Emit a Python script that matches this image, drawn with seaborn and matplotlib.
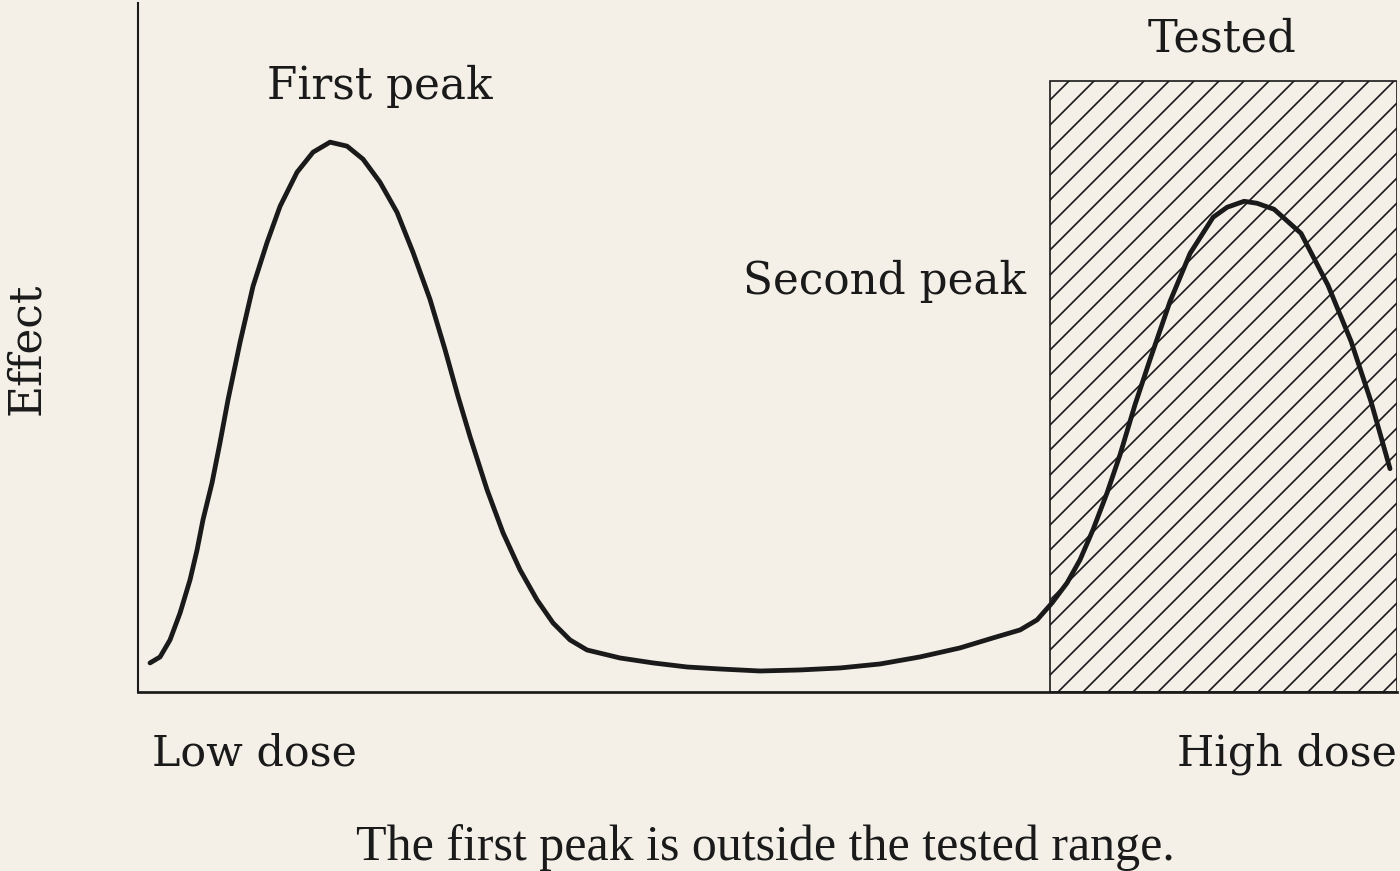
import seaborn as sns
import matplotlib.pyplot as plt
import pandas as pd
from matplotlib.patches import Rectangle

# Data (dose 0-100, effect 0-100)
dose = [0.95, 1.75, 2.54, 3.34, 4.13, 4.69, 5.16, 5.88, 6.51, 7.15, 8.10, 9.13,
        10.25, 11.28, 12.63, 13.90, 15.25, 16.60, 17.87, 19.22, 20.57, 21.84,
        23.19, 24.38, 25.42, 26.37, 27.72, 28.99, 30.34, 31.69, 32.96, 34.31,
        35.66, 38.28, 40.91, 43.61, 46.23, 49.40, 52.58, 55.76, 58.94, 62.11,
        65.29, 67.91, 70.06, 71.41, 72.60, 73.79, 74.82, 75.85, 76.97, 78.00,
        79.19, 80.38, 81.97, 83.56, 85.39, 86.50, 87.85, 88.88, 90.23, 92.37,
        94.52, 96.35, 97.93, 99.44]
effect = [4.22, 5.09, 7.56, 11.48, 16.28, 20.64, 25.00, 30.38, 36.19, 42.44, 50.73, 58.87,
          65.26, 70.49, 75.44, 78.34, 79.80, 79.22, 77.33, 73.98, 69.62, 63.81,
          56.98, 49.71, 42.88, 37.06, 29.36, 23.11, 17.73, 13.37, 10.03, 7.56,
          6.10, 4.94, 4.22, 3.63, 3.34, 3.05, 3.20, 3.49, 4.07, 5.09,
          6.40, 7.85, 9.01, 10.47, 12.94, 15.84, 19.19, 23.55, 28.92, 34.45,
          41.72, 48.26, 56.69, 63.66, 68.90, 70.35, 71.22, 70.93, 70.06, 66.57,
          59.01, 50.87, 42.15, 32.41]

tested_start = 72.4
tested_end = 100
tested_top = 88.7

df = pd.DataFrame({"dose": dose, "effect": effect})

bg = "#f4f0e8"
ink = "#1a1a1a"

sns.set_theme(style="white")
plt.rcParams["font.family"] = ["DejaVu Serif"]
plt.rcParams["hatch.linewidth"] = 0.8
plt.rcParams["hatch.color"] = ink

fig = plt.figure(figsize=(1400 / 150, 871 / 150), dpi=150, facecolor=bg)
ax = fig.add_axes([0.0986, 0.2055, 0.8993, 0.7911])
ax.set_facecolor(bg)

# tested range box
ax.add_patch(Rectangle((tested_start, 0), tested_end - tested_start, tested_top,
                       facecolor="none", edgecolor=ink, hatch="//", linewidth=0.8))

sns.lineplot(data=df, x="dose", y="effect", color=ink, linewidth=2.3, ax=ax,
             solid_joinstyle="round", solid_capstyle="round")

ax.set_xlim(0, 100)
ax.set_ylim(0, 100)
ax.set_xticks([])
ax.set_yticks([])
ax.set_xlabel("")
ax.set_ylabel("")
for s in ["top", "right"]:
    ax.spines[s].set_visible(False)
ax.spines["left"].set_linewidth(1.0)
ax.spines["bottom"].set_linewidth(1.3)
ax.spines["left"].set_color(ink)
ax.spines["bottom"].set_color(ink)

fs = 21
ax.text(19.2, 86.0, "First peak", ha="center", va="baseline", fontsize=fs, color=ink)
ax.text(59.3, 57.7, "Second peak", ha="center", va="baseline", fontsize=fs, color=ink)
ax.text(86.1, 93.0, "Tested", ha="center", va="baseline", fontsize=fs + 0.5, color=ink,
        clip_on=False)
ax.text(1.1, -10.6, "Low dose", ha="left", va="baseline", fontsize=fs - 0.5, color=ink,
        clip_on=False)
ax.text(100, -10.6, "High dose", ha="right", va="baseline", fontsize=fs - 0.5, color=ink,
        clip_on=False)

fig.text(0.019, 0.600, "Effect", rotation=90, ha="center", va="center", fontsize=fs, color=ink)
fig.text(0.547, 0.0126, "The first peak is outside the tested range.", ha="center",
         va="baseline", fontsize=24, color=ink, family=["Liberation Serif"])

fig.savefig("out.png", dpi=150, facecolor=bg)
